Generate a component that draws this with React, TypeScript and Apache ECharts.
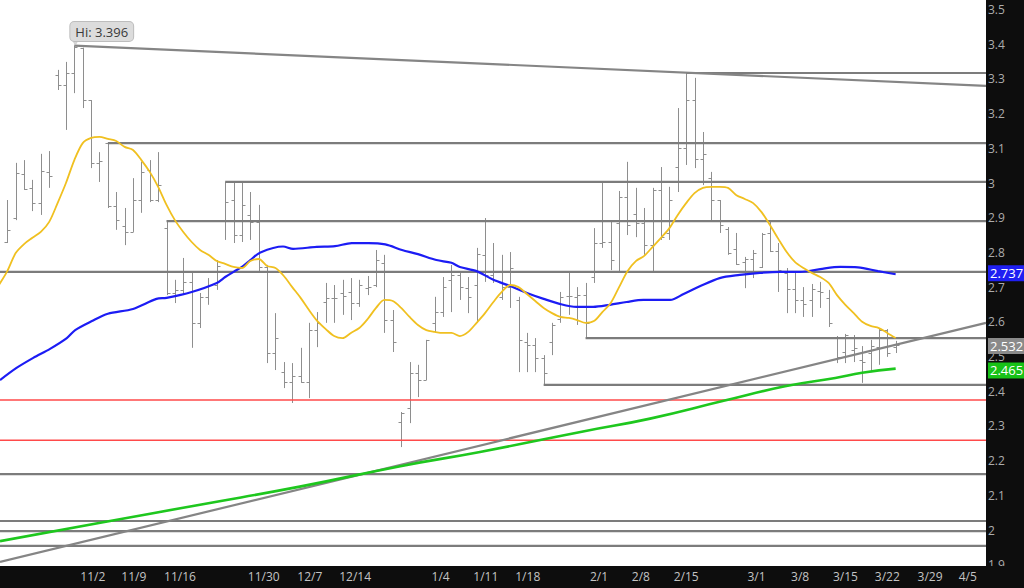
import React, { useEffect, useRef } from "react";
import * as echarts from "echarts";

// x is the bar (trading-day) index; axis extent in bar units
const X_MIN = -0.87;
const X_MAX = 116.78;

const tickPos = [10.2, 15.1, 20.6, 30.6, 36.1, 41.5, 51.7, 57.1, 62.1, 70.6, 75.6, 81.0, 89.4, 94.6, 100.0, 105.0, 110.1, 114.6];
const tickLabels = ["11/2", "11/9", "11/16", "11/30", "12/7", "12/14", "1/4", "1/11", "1/18", "2/1", "2/8", "2/15", "3/1", "3/8", "3/15", "3/22", "3/29", "4/5"];

const opens = [
  2.830, 2.899, 3.026, 2.986, 2.942, 3.032, 3.311, 3.282, 3.317, 3.389,
  3.239, 3.058, 3.115, 2.934, 2.876, 2.859, 2.951, 3.038, 2.951, 2.870,
  2.683, 2.692, 2.715, 2.597, 2.672, 2.706, 2.893, 2.951, 2.850, 2.908,
  2.888, 2.758, 2.510, 2.455, 2.427, 2.444, 2.427, 2.576, 2.657, 2.669,
  2.683, 2.686, 2.654, 2.697, 2.706, 2.769, 2.605, 2.311, 2.351, 2.453,
  2.432, 2.597, 2.628, 2.721, 2.735, 2.697, 2.706, 2.793, 2.735, 2.672,
  2.700, 2.663, 2.542, 2.533, 2.496, 2.542, 2.608, 2.674, 2.672, 2.677,
  2.729, 2.827, 2.830, 2.885, 2.960, 2.911, 2.885, 2.821, 2.980, 2.856,
  3.046, 3.101, 3.239, 3.069, 3.014, 2.951, 2.868, 2.810, 2.772, 2.781,
  2.758, 2.856, 2.804, 2.741, 2.695, 2.663, 2.663, 2.689, 2.669, 2.556,
  2.513, 2.519, 2.490, 2.510, 2.527, 2.576, 2.527,
];
const highs = [
  2.951, 3.058, 3.066, 3.009, 3.084, 3.092, 3.326, 3.349, 3.396, 3.390,
  3.239, 3.089, 3.118, 2.974, 2.928, 3.014, 3.061, 3.066, 3.089, 2.888,
  2.721, 2.784, 2.744, 2.683, 2.726, 2.778, 3.003, 3.000, 3.000, 2.974,
  2.937, 2.764, 2.625, 2.484, 2.481, 2.525, 2.597, 2.628, 2.712, 2.706,
  2.721, 2.726, 2.721, 2.732, 2.807, 2.793, 2.634, 2.340, 2.484, 2.476,
  2.548, 2.672, 2.729, 2.764, 2.744, 2.729, 2.813, 2.899, 2.827, 2.793,
  2.801, 2.672, 2.568, 2.553, 2.504, 2.597, 2.686, 2.744, 2.700, 2.712,
  2.870, 3.003, 2.893, 2.977, 3.061, 2.986, 2.928, 2.986, 3.046, 2.989,
  3.216, 3.317, 3.303, 3.147, 3.032, 2.951, 2.873, 2.856, 2.787, 2.807,
  2.856, 2.888, 2.827, 2.755, 2.741, 2.700, 2.709, 2.715, 2.692, 2.559,
  2.565, 2.562, 2.530, 2.548, 2.582, 2.579, 2.545,
];
const lows = [
  2.827, 2.893, 2.980, 2.919, 2.908, 2.986, 3.268, 3.153, 3.259, 3.216,
  3.043, 3.003, 2.928, 2.865, 2.821, 2.859, 2.914, 2.945, 2.945, 2.677,
  2.654, 2.677, 2.525, 2.582, 2.649, 2.692, 2.836, 2.827, 2.830, 2.836,
  2.744, 2.481, 2.461, 2.409, 2.366, 2.424, 2.380, 2.527, 2.597, 2.597,
  2.620, 2.605, 2.643, 2.677, 2.700, 2.568, 2.513, 2.239, 2.308, 2.383,
  2.432, 2.568, 2.614, 2.628, 2.663, 2.625, 2.597, 2.715, 2.712, 2.663,
  2.640, 2.455, 2.455, 2.455, 2.418, 2.504, 2.597, 2.620, 2.591, 2.556,
  2.712, 2.813, 2.749, 2.741, 2.850, 2.844, 2.793, 2.744, 2.836, 2.836,
  2.974, 3.052, 3.043, 2.994, 2.893, 2.856, 2.793, 2.764, 2.697, 2.726,
  2.755, 2.801, 2.686, 2.625, 2.625, 2.614, 2.614, 2.640, 2.585, 2.481,
  2.481, 2.484, 2.424, 2.455, 2.476, 2.499, 2.510,
];
const closes = [
  2.865, 3.029, 2.983, 2.942, 3.035, 3.020, 3.282, 3.317, 3.392, 3.239,
  3.058, 3.063, 2.934, 2.893, 2.859, 2.951, 3.032, 2.951, 2.994, 2.683,
  2.692, 2.715, 2.597, 2.672, 2.706, 2.761, 2.945, 2.850, 2.937, 2.888,
  2.758, 2.510, 2.553, 2.427, 2.444, 2.427, 2.576, 2.597, 2.669, 2.669,
  2.674, 2.654, 2.706, 2.700, 2.778, 2.605, 2.542, 2.337, 2.453, 2.432,
  2.548, 2.628, 2.700, 2.735, 2.700, 2.672, 2.795, 2.735, 2.744, 2.700,
  2.755, 2.548, 2.533, 2.496, 2.453, 2.591, 2.672, 2.674, 2.677, 2.597,
  2.827, 2.830, 2.778, 2.960, 2.879, 2.885, 2.821, 2.980, 2.844, 2.951,
  3.101, 3.239, 3.069, 3.084, 2.951, 2.879, 2.798, 2.767, 2.781, 2.798,
  2.853, 2.804, 2.749, 2.695, 2.663, 2.651, 2.695, 2.686, 2.597, 2.499,
  2.562, 2.525, 2.484, 2.530, 2.576, 2.510, 2.532,
];

// short moving average, one value per bar starting one bar before the first bar
const maShortStart = -1;
const maShort = [
  2.706, 2.746, 2.798, 2.824, 2.842, 2.859, 2.888, 2.942, 3.000, 3.066,
  3.115, 3.130, 3.133, 3.127, 3.121, 3.104, 3.095, 3.066, 3.032, 2.989,
  2.937, 2.893, 2.859, 2.830, 2.807, 2.793, 2.775, 2.767, 2.758, 2.755,
  2.775, 2.781, 2.761, 2.755, 2.732, 2.700, 2.669, 2.634, 2.602, 2.579,
  2.559, 2.553, 2.568, 2.582, 2.608, 2.640, 2.663, 2.660, 2.640, 2.614,
  2.591, 2.576, 2.571, 2.568, 2.568, 2.559, 2.571, 2.597, 2.625, 2.657,
  2.686, 2.706, 2.700, 2.680, 2.660, 2.640, 2.625, 2.614, 2.611, 2.605,
  2.597, 2.602, 2.628, 2.654, 2.700, 2.746, 2.775, 2.790, 2.816, 2.842,
  2.870, 2.908, 2.942, 2.971, 2.986, 2.989, 2.989, 2.986, 2.965, 2.954,
  2.942, 2.916, 2.879, 2.839, 2.801, 2.772, 2.755, 2.741, 2.729, 2.712,
  2.677, 2.649, 2.625, 2.600, 2.588, 2.582, 2.568, 2.553,
];

// medium moving average: [bar index, value]
const maMid = [
  [-0.87, 2.432], [1.1, 2.467], [3.1, 2.496], [5.1, 2.522], [7.1, 2.553], [8.1, 2.576],
  [10.1, 2.602], [12.0, 2.623], [15.0, 2.637], [17.8, 2.666], [19.0, 2.669], [22.0, 2.686],
  [25.0, 2.712], [26.0, 2.729], [27.0, 2.744], [28.0, 2.758], [29.0, 2.778], [30.2, 2.800],
  [32.9, 2.817], [34.1, 2.810], [36.9, 2.816], [39.1, 2.818], [41.1, 2.827], [43.1, 2.827],
  [45.1, 2.823], [47.1, 2.807], [49.0, 2.795], [51.2, 2.778], [53.0, 2.770], [54.0, 2.758],
  [56.0, 2.746], [58.0, 2.721], [60.0, 2.703], [62.0, 2.683], [64.0, 2.666], [66.0, 2.651],
  [67.9, 2.643], [69.9, 2.643], [71.9, 2.649], [73.9, 2.657], [75.9, 2.663], [77.9, 2.663],
  [79.1, 2.663], [80.7, 2.680], [82.7, 2.703], [85.0, 2.726], [87.4, 2.735], [89.8, 2.741],
  [92.2, 2.744], [94.6, 2.744], [97.0, 2.752], [99.4, 2.758], [101.5, 2.757], [103.9, 2.746],
  [106, 2.737],
];

// long moving average: [bar index, value]
const maLong = [
  [-0.87, 1.968], [11.1, 2.021], [23.0, 2.073], [34.9, 2.125], [46.9, 2.184], [56.4, 2.225],
  [68.7, 2.284], [76.7, 2.321], [85.6, 2.373], [92.8, 2.414], [98.8, 2.438], [102.0, 2.453],
  [106, 2.465],
];

// horizontal support / resistance levels: [start bar, price]
const grayLevels = [
  [81, 3.317], [12, 3.115], [26, 3.003], [19, 2.890], [X_MIN, 2.744], [69, 2.553],
  [64, 2.418], [X_MIN, 2.161], [X_MIN, 2.026], [X_MIN, 1.997], [X_MIN, 1.954],
];
const redLevels = [2.375, 2.259];

// trend lines: [[bar, price], [bar, price]]
const trendLines = [
  [[8, 3.396], [X_MAX, 3.2798]],
  [[X_MIN, 1.908], [X_MAX, 2.597]],
];

const hiIndex = 8;
const hiValue = 3.396;

const FONT = "Open Sans";

export default function App() {
  const ref = useRef<HTMLDivElement>(null);

  useEffect(() => {
    if (!ref.current) return;
    const chart = echarts.init(ref.current, undefined, { renderer: "svg" });

    const ohlcData = opens.map((o, i) => [i, o, highs[i], lows[i], closes[i]]);
    const lastClose = closes[closes.length - 1];
    const lastMid = maMid[maMid.length - 1][1];
    const lastLong = maLong[maLong.length - 1][1];

    const levelSeries: any[] = grayLevels.map(([from, v]) => ({
      type: "line",
      data: [[from, v], [X_MAX, v]],
      symbol: "none",
      silent: true,
      z: 3,
      lineStyle: { color: "#7c7c7c", width: 2.2 },
    }));
    const redSeries: any[] = redLevels.map((v) => ({
      type: "line",
      data: [[X_MIN, v], [X_MAX, v]],
      symbol: "none",
      silent: true,
      z: 3,
      lineStyle: { color: "#ff4a4a", width: 1.5 },
    }));
    const trendSeries: any[] = trendLines.map((pts) => ({
      type: "line",
      data: pts,
      symbol: "none",
      silent: true,
      z: 3,
      lineStyle: { color: "#858585", width: 2.2 },
    }));

    const tagSeries = (value: number, bg: string) => ({
      type: "line",
      data: [],
      symbol: "none",
      silent: true,
      clip: false,
      z: 6,
      markLine: {
        symbol: ["none", "none"],
        silent: true,
        lineStyle: { color: "rgba(0,0,0,0)", width: 1, opacity: 1 },
        label: {
          show: true,
          position: "end",
          distance: 2,
          formatter: () => value.toFixed(3),
          color: "#ffffff",
          opacity: 1,
          backgroundColor: bg,
          padding: [2, 3, 1, 2],
          fontFamily: FONT,
          fontSize: 13,
        },
        data: [{ yAxis: value }],
      },
    });

    chart.setOption({
      animation: false,
      grid: { left: 0, right: 38, top: 9.5, bottom: 23.3, containLabel: false },
      xAxis: {
        type: "value",
        min: X_MIN,
        max: X_MAX,
        z: 3,
        axisLine: { show: false },
        axisTick: { show: false },
        splitLine: { show: false },
        axisLabel: {
          customValues: tickPos,
          formatter: (v: number) => {
            const i = tickPos.findIndex((p) => Math.abs(p - v) < 1e-6);
            return i >= 0 ? tickLabels[i] : "";
          },
          color: "#c4c4c4",
          fontFamily: FONT,
          fontSize: 12,
          margin: 6,
        },
      },
      yAxis: {
        type: "value",
        position: "right",
        min: 1.9,
        max: 3.5,
        interval: 0.1,
        z: 1,
        axisLine: { show: false },
        axisTick: { show: false },
        splitLine: { show: false },
        axisLabel: {
          color: "#acacac",
          fontFamily: FONT,
          fontSize: 12,
          margin: 2,
        },
      },
      graphic: [
        { type: "rect", z: 0, shape: { x: 986, y: 0, width: 38, height: 588 }, style: { fill: "#0d0d0d" } },
        { type: "rect", z: 2, shape: { x: 0, y: 566, width: 1024, height: 22 }, style: { fill: "#0d0d0d" } },
      ],
      series: [
        {
          type: "custom",
          z: 2,
          clip: true,
          silent: true,
          data: ohlcData,
          encode: { x: 0, y: [1, 2, 3, 4] },
          renderItem: (params: any, api: any) => {
            const x = api.value(0);
            const o = api.coord([x, api.value(1)]);
            const h = api.coord([x, api.value(2)]);
            const l = api.coord([x, api.value(3)]);
            const c = api.coord([x, api.value(4)]);
            const px = Math.round(h[0]) + 0.5;
            const t = 3;
            const style = { stroke: "#8e8e8e", lineWidth: 1 };
            return {
              type: "group",
              children: [
                { type: "line", shape: { x1: px, y1: h[1], x2: px, y2: l[1] }, style },
                { type: "line", shape: { x1: px - t, y1: Math.round(o[1]) + 0.5, x2: px, y2: Math.round(o[1]) + 0.5 }, style },
                { type: "line", shape: { x1: px, y1: Math.round(c[1]) + 0.5, x2: px + t, y2: Math.round(c[1]) + 0.5 }, style },
              ],
            };
          },
        },
        ...levelSeries,
        ...redSeries,
        ...trendSeries,
        {
          type: "line",
          name: "maLong",
          data: maLong,
          symbol: "none",
          smooth: true,
          silent: true,
          z: 4,
          lineStyle: { color: "#1ec71e", width: 2.6 },
        },
        {
          type: "line",
          name: "maMid",
          data: maMid,
          symbol: "none",
          smooth: 0.3,
          silent: true,
          z: 4,
          lineStyle: { color: "#1c1cf4", width: 2.2 },
        },
        {
          type: "line",
          name: "maShort",
          data: maShort.map((v, i) => [i + maShortStart, v]),
          symbol: "none",
          smooth: 0.3,
          silent: true,
          z: 4,
          lineStyle: { color: "#f0c020", width: 1.8 },
          markPoint: {
            silent: true,
            data: [
              {
                coord: [hiIndex, hiValue],
                symbol: "triangle",
                symbolRotate: 180,
                symbolSize: [6, 5],
                symbolOffset: [1, -3],
                itemStyle: { color: "#d8d8d8", borderColor: "#b8b8b8", borderWidth: 0.5 },
                label: { show: false },
              },
              {
                coord: [hiIndex, hiValue],
                symbol: "circle",
                symbolSize: 1,
                itemStyle: { color: "rgba(0,0,0,0)" },
                label: {
                  show: true,
                  position: "top",
                  distance: 4,
                  align: "left",
                  offset: [-4, 0],
                  formatter: () => "Hi: " + hiValue.toFixed(3),
                  color: "#3a3a3a",
                  fontFamily: FONT,
                  fontSize: 13,
                  backgroundColor: "#dcdcdc",
                  borderColor: "#bdbdbd",
                  borderWidth: 1,
                  borderRadius: 4,
                  padding: [3, 5, 3, 5],
                },
              },
            ],
          },
        },
        tagSeries(lastClose, "#8a8a8a"),
        tagSeries(lastMid, "#1f1ff2"),
        tagSeries(lastLong, "#17c217"),
      ],
    });

    return () => chart.dispose();
  }, []);

  return (
    <div
      ref={ref}
      style={{ position: "fixed", left: 0, top: 0, width: 1024, height: 588, background: "#ffffff" }}
    />
  );
}
